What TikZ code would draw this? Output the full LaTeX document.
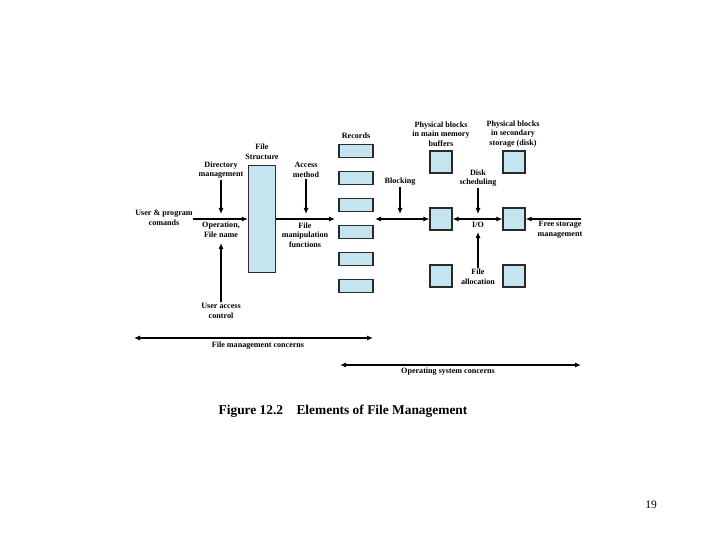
\documentclass[tikz,border=0pt]{standalone}
\usepackage{fontspec}
\setmainfont{Liberation Serif}
\usetikzlibrary{arrows.meta}
\definecolor{fmBlue}{HTML}{C4E4F0}
\definecolor{fmEdge}{HTML}{2A2A2A}

\begin{document}
\begin{tikzpicture}[x=1pt, y=-1pt,
    arr/.style={line width=1.1pt, -{Latex[length=6pt,width=5pt]}},
    dbl/.style={line width=1.1pt, {Latex[length=6pt,width=5pt]}-{Latex[length=6pt,width=5pt]}},
    blk/.style={draw=fmEdge, line width=1.2pt, fill=fmBlue, inner sep=0pt},
    lbl/.style={align=center, font=\bfseries\fontsize{8.1}{9.6}\selectfont, inner sep=1pt}]
  \useasboundingbox (0,0) rectangle (720,540);
  % boxes
  \node[blk, minimum width=27pt, minimum height=107pt] (fstruct) at (262,219) {};
  \foreach \i/\y in {1/151,2/178,3/205,4/232,5/259,6/286}
    \node[blk, minimum width=34pt, minimum height=13pt] (rec\i) at (356,\y) {};
  \foreach \r/\y in {1/162,2/219,3/276} {
    \node[blk, minimum size=22pt] (mem\r) at (441,\y) {};
    \node[blk, minimum size=22pt] (disk\r) at (514,\y) {};
  }
  % labels
  \node[lbl] (usrlbl) at (164,218) {User \& program\\comands};
  \node[lbl] (dirlbl) at (221,170) {Directory\\management};
  \node[lbl] (fslbl) at (262,152) {File\\Structure};
  \node[lbl] (acclbl) at (306,170) {Access\\method};
  \node[lbl] (oplbl) at (221,230) {Operation,\\File name};
  \node[lbl] (fmlbl) at (305,235) {File\\manipulation\\functions};
  \node[lbl] (ualbl) at (221,311) {User access\\control};
  \node[lbl] (reclbl) at (356,136) {Records};
  \node[lbl] (memlbl) at (441,134) {Physical blocks\\in main memory\\buffers};
  \node[lbl] (disklbl) at (513,134) {Physical blocks\\in secondary\\storage (disk)};
  \node[lbl] (blklbl) at (400,182) {Blocking};
  \node[lbl] (dslbl) at (478,178) {Disk\\scheduling};
  \node[lbl] (iolbl) at (478,225) {I/O};
  \node[lbl] (falbl) at (478,277) {File\\allocation};
  \node[lbl] (fsmlbl) at (560,230) {Free storage\\management};
  \node[lbl] (fmclbl) at (258,346) {File management concerns};
  \node[lbl] (osclbl) at (448,372) {Operating system concerns};
  \node[font=\bfseries\fontsize{13.4}{15}\selectfont] (caption) at (343,411) {Figure 12.2\hspace{1em}Elements of File Management};
  \node[font=\fontsize{11.5}{13}\selectfont] (pageno) at (651,505) {19};
  % arrow ends
  \coordinate (usrstart) at (193,219);
  \coordinate (fmend) at (335,219);
  \coordinate (dirend) at (221,214);
  \coordinate (accend) at (306,214);
  \coordinate (uaend) at (221,243);
  \coordinate (blkstart) at (375,219);
  \coordinate (blkend) at (400,214);
  \coordinate (dsend) at (478,214);
  \coordinate (faend) at (478,232);
  \coordinate (fsmstart) at (581,219);
  \coordinate (fmcl) at (134,338);
  \coordinate (fmcr) at (373,338);
  \coordinate (oscl) at (340,365);
  \coordinate (oscr) at (581,365);
  % connectors
  \draw[arr] (usrstart) -- (fstruct.west);
  \draw[arr] (fstruct.east) -- (fmend);
  \draw[arr] (dirlbl.south) -- (dirend);
  \draw[arr] (acclbl.south) -- (accend);
  \draw[arr] (ualbl.north) -- (uaend);
  \draw[dbl] (blkstart) -- (mem2.west);
  \draw[arr] (blklbl.south) -- (blkend);
  \draw[dbl] (mem2.east) -- (disk2.west);
  \draw[arr] (dslbl.south) -- (dsend);
  \draw[arr] (falbl.north) -- (faend);
  \draw[arr] (fsmstart) -- (disk2.east);
  \draw[dbl] (fmcl) -- (fmcr);
  \draw[dbl] (oscl) -- (oscr);
\end{tikzpicture}
\end{document}
